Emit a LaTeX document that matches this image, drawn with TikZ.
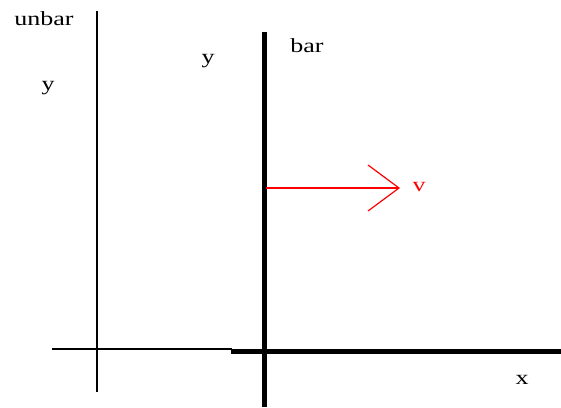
\documentclass[tikz,border=0pt]{standalone}
\usepackage{fontspec}
\setmainfont[FakeStretch=1.3]{Liberation Serif}
\usetikzlibrary{arrows.meta}
\begin{document}
\begin{tikzpicture}[x=1pt,y=-1pt,font=\fontsize{20}{20}\selectfont]
  \useasboundingbox (0,0) rectangle (561,407);
  % unbar axes
  \begin{scope}
    \draw[line width=1.3pt] (97,11) -- (97,392);
    \draw[line width=1.3pt] (52,349) -- (232,349);
    \node (unbar) at (44,19) {unbar};
    \node (yunbar) at (48,88) {y};
  \end{scope}
  % bar axes
  \begin{scope}
    \draw[line width=5pt] (264,32) -- (264,407);
    \draw[line width=5pt] (231,351) -- (561,351);
    \node (bar) at (307,46) {bar};
    \node (ybar) at (208,61) {y};
    \node (xbar) at (522,380) {x};
  \end{scope}
  % velocity
  \begin{scope}
    \coordinate (vtail) at (266,188);
    \coordinate (vtip) at (400,188);
    \draw[line width=1.2pt,color=red,-{Straight Barb[length=31pt,width=46pt]}] (vtail) -- (vtip);
    \node[color=red] (v) at (419,187) {v};
  \end{scope}
\end{tikzpicture}
\end{document}
